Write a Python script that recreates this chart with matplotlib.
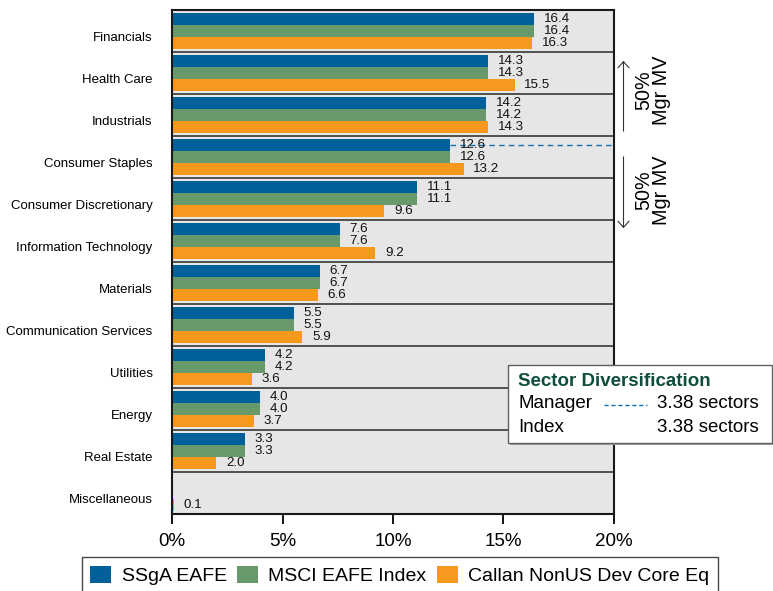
import matplotlib.pyplot as plt
from matplotlib.patches import Rectangle
from matplotlib.lines import Line2D

plt.rcParams['font.family'] = ['Liberation Sans', 'DejaVu Sans']

# data
sectors = ["Financials", "Health Care", "Industrials", "Consumer Staples",
           "Consumer Discretionary", "Information Technology", "Materials",
           "Communication Services", "Utilities", "Energy", "Real Estate",
           "Miscellaneous"]
ssga = [16.4, 14.3, 14.2, 12.6, 11.1, 7.6, 6.7, 5.5, 4.2, 4.0, 3.3, 0.0]
msci = [16.4, 14.3, 14.2, 12.6, 11.1, 7.6, 6.7, 5.5, 4.2, 4.0, 3.3, 0.0]
callan = [16.3, 15.5, 14.3, 13.2, 9.6, 9.2, 6.6, 5.9, 3.6, 3.7, 2.0, 0.1]
series_names = ["SSgA EAFE", "MSCI EAFE Index", "Callan NonUS Dev Core Eq"]
colors = ["#00609A", "#67996A", "#F7981F"]
x_ticks = [0, 5, 10, 15, 20]
manager_div = "3.38 sectors"
index_div = "3.38 sectors"
mgr_line_value = 12.6  # where the manager's 50% split falls
mgr_line_row = 3

W, H = 773, 591
fig = plt.figure(figsize=(W / 100, H / 100), dpi=100)
ax = fig.add_axes([172 / W, 1 - 514 / H, 442 / W, 504 / H])
ax.set_facecolor("#E6E6E6")

bh = 12 / 42
ypos = list(range(len(sectors)))
for k, vals in enumerate([ssga, msci, callan]):
    off = (k - 1) * bh
    yy = [y + off for y in ypos]
    ax.barh(yy, vals, height=bh, color=colors[k], label=series_names[k], zorder=2)
    for y, v in zip(yy, vals):
        if v > 0:
            ax.annotate(f"{v:.1f}", (v, y), xytext=(7, 0), textcoords="offset points",
                        va="center", ha="left", fontsize=9.6, color="#111111", zorder=4)

# band separators
for i in range(len(sectors) - 1):
    ax.axhline(i + 0.5, color="#505050", lw=1.4, zorder=1)

# manager dashed line
ax.plot([mgr_line_value, 20], [mgr_line_row - bh, mgr_line_row - bh], ls=(0, (4, 3)),
        color="#1070B0", lw=1, zorder=3)

ax.set_xlim(0, 20)
ax.set_ylim(len(sectors) - 0.5, -0.5)
ax.set_xticks(x_ticks)
ax.set_xticklabels([f"{t}%" for t in x_ticks], fontsize=13.5)
ax.tick_params(axis="x", direction="out", length=7, width=1.3, pad=7)
ax.set_yticks([y + 0.14 for y in ypos])
ax.set_yticklabels(sectors, fontsize=9.5)
ax.tick_params(axis="y", length=0, pad=14)
for s in ax.spines.values():
    s.set_linewidth(1.5)
    s.set_color("#1a1a1a")

# arrows and 50% labels on the right
tr = ("axes fraction", "data")
arrow = dict(arrowstyle="->,head_length=0.45,head_width=0.4", color="#333333", lw=0.8)
ax.annotate("", xy=(1.0215, 0.643), xytext=(1.0215, 2.452), xycoords=tr, textcoords=tr,
            arrowprops=arrow)
ax.annotate("", xy=(1.0215, 4.762), xytext=(1.0215, 2.929), xycoords=tr, textcoords=tr,
            arrowprops=arrow)
for yc in [1.405, 3.786]:
    ax.annotate("50%\nMgr MV", xy=(1.087, yc), xycoords=tr, rotation=90,
                ha="center", va="center", fontsize=14.2, linespacing=0.92,
                annotation_clip=False)

# sector diversification box
fig.patches.append(Rectangle((510 / W, 1 - 445 / H), 264 / W, 78 / H, transform=fig.transFigure,
                             facecolor="#A0A0A0", edgecolor="none", zorder=5))
fig.patches.append(Rectangle((508 / W, 1 - 443 / H), 264 / W, 78 / H, transform=fig.transFigure,
                             facecolor="white", edgecolor="#606060", lw=1.0, zorder=6))
fig.text(518 / W, 1 - 382 / H, "Sector Diversification", fontsize=13.5, fontweight="bold",
         color="#0F4D3D", va="center", zorder=7)
fig.text(518 / W, 1 - 404 / H, "Manager", fontsize=13.5, va="center", zorder=7)
fig.text(657 / W, 1 - 404 / H, manager_div, fontsize=13.5, va="center", zorder=7)
fig.text(518 / W, 1 - 427 / H, "Index", fontsize=13.5, va="center", zorder=7)
fig.text(657 / W, 1 - 427 / H, index_div, fontsize=13.5, va="center", zorder=7)
fig.lines.append(Line2D([604 / W, 647 / W], [1 - 405 / H, 1 - 405 / H], transform=fig.transFigure,
                        ls=(0, (3, 2)), color="#1070B0", lw=1, zorder=7))

# legend
leg = fig.legend(loc="upper center", bbox_to_anchor=(400 / W, 1 - 557 / H), ncol=3,
                 fontsize=14, frameon=True, fancybox=False, edgecolor="#1a1a1a",
                 handlelength=1.07, handleheight=1.0, handletextpad=0.53,
                 columnspacing=0.55, borderpad=0.45, borderaxespad=0)
leg.get_frame().set_linewidth(1.0)

fig.savefig("out.png", dpi=100)
